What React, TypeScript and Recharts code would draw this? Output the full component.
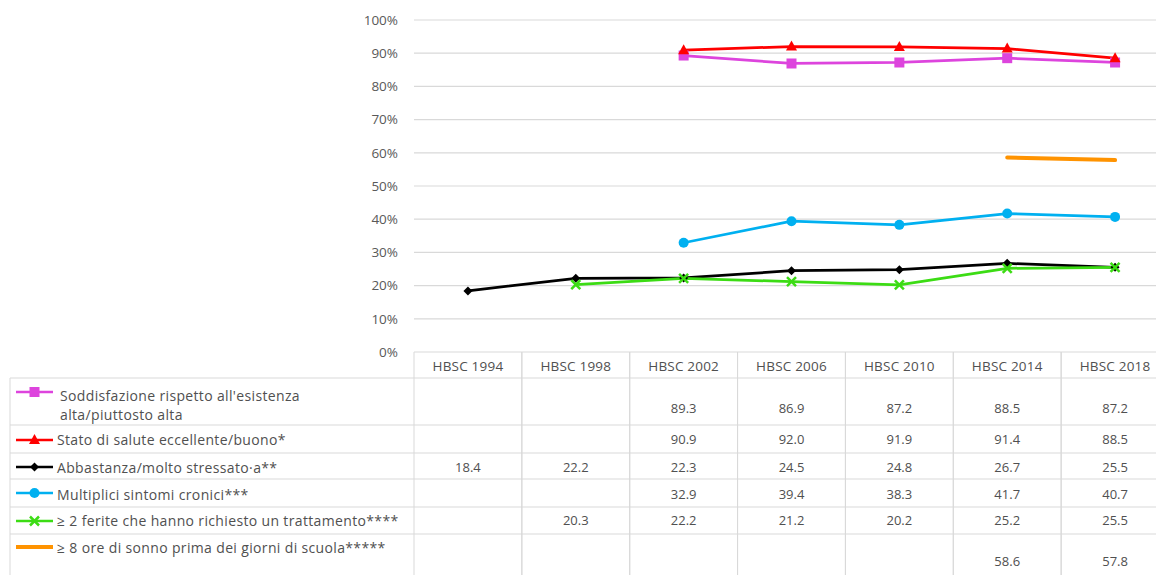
import { LineChart, Line, XAxis, YAxis, CartesianGrid } from "recharts";

// categorie (anni dell'indagine)
const years = ["HBSC 1994", "HBSC 1998", "HBSC 2002", "HBSC 2006", "HBSC 2010", "HBSC 2014", "HBSC 2018"];

// valori delle serie (%), null = non rilevato
const soddisfazione = [null, null, 89.3, 86.9, 87.2, 88.5, 87.2];
const salute = [null, null, 90.9, 92.0, 91.9, 91.4, 88.5];
const stress = [18.4, 22.2, 22.3, 24.5, 24.8, 26.7, 25.5];
const sintomi = [null, null, 32.9, 39.4, 38.3, 41.7, 40.7];
const ferite = [null, 20.3, 22.2, 21.2, 20.2, 25.2, 25.5];
const sonno = [null, null, null, null, null, 58.6, 57.8];

const yTicks = [0, 10, 20, 30, 40, 50, 60, 70, 80, 90, 100];

const series = [
  { key: "soddisfazione", values: soddisfazione, label: ["Soddisfazione rispetto all'esistenza", "alta/piuttosto alta"], color: "#DD44DD", shape: "square" },
  { key: "salute", values: salute, label: ["Stato di salute eccellente/buono*"], color: "#FF0000", shape: "triangle" },
  { key: "stress", values: stress, label: ["Abbastanza/molto stressato·a**"], color: "#000000", shape: "diamond" },
  { key: "sintomi", values: sintomi, label: ["Multiplici sintomi cronici***"], color: "#00B0F0", shape: "circle" },
  { key: "ferite", values: ferite, label: ["≥ 2 ferite che hanno richiesto un trattamento****"], color: "#3CDC14", shape: "x" },
  { key: "sonno", values: sonno, label: ["≥ 8 ore di sonno prima dei giorni di scuola*****"], color: "#FF9300", shape: "none" },
];

const data = years.map((year, i) => {
  const row: Record<string, string | number | null> = { year };
  series.forEach((s) => (row[s.key] = s.values[i]));
  return row;
});

// layout della tabella sotto il grafico
const FONT = "'Open Sans', sans-serif";
const TEXT = "#505050";
const BORDER = "#d9d9d9";
const COL = 107.85;
const TABLE_TOP = 352;
const HEADER_BOTTOM = 378;
const ROW_LINES = [378, 425, 453, 479, 507, 534];
const VALUE_Y = [408, 439, 467, 494, 520, 561];
const LEGEND_Y = [392, 440, 467, 493, 521, 547];
const LABEL_Y = [[395, 414], [439], [467], [494], [520], [547]];

const Marker = ({ shape, cx, cy, color }: { shape: string; cx: number; cy: number; color: string }) => {
  if (shape === "square") return <rect x={cx - 5} y={cy - 5} width={10} height={10} fill={color} />;
  if (shape === "triangle")
    return <polygon points={`${cx},${cy - 6} ${cx + 5.5},${cy + 4} ${cx - 5.5},${cy + 4}`} fill={color} />;
  if (shape === "diamond")
    return <polygon points={`${cx},${cy - 4.5} ${cx + 4.5},${cy} ${cx},${cy + 4.5} ${cx - 4.5},${cy}`} fill={color} />;
  if (shape === "circle") return <circle cx={cx} cy={cy} r={5} fill={color} />;
  if (shape === "x")
    return (
      <g stroke={color} strokeWidth={2.5}>
        <line x1={cx - 4.5} y1={cy - 4.5} x2={cx + 4.5} y2={cy + 4.5} />
        <line x1={cx - 4.5} y1={cy + 4.5} x2={cx + 4.5} y2={cy - 4.5} />
      </g>
    );
  return null;
};

const makeDot = (shape: string, color: string) => (props: any) => {
  const { cx, cy, index } = props;
  if (cx == null || cy == null || props.value == null) return <g key={`d-${index}`} />;
  return (
    <g key={`d-${index}`}>
      <Marker shape={shape} cx={cx} cy={cy} color={color} />
    </g>
  );
};

// ogni tick dell'asse X disegna la propria colonna della tabella dati
const TableColumn = (props: any) => {
  const { x, payload } = props;
  const i = payload.index;
  const left = x - COL / 2;
  const right = x + COL / 2;
  return (
    <g>
      <line x1={left} y1={TABLE_TOP} x2={left} y2={575} stroke={BORDER} />
      <line x1={right} y1={TABLE_TOP} x2={right} y2={575} stroke={BORDER} />
      {ROW_LINES.map((y) => (
        <line key={y} x1={left} y1={y} x2={right} y2={y} stroke={BORDER} />
      ))}
      <text x={x} y={366} textAnchor="middle" dominantBaseline="central" fontSize={13.5} letterSpacing={0.2} fill={TEXT} fontFamily={FONT}>
        {payload.value}
      </text>
      {series.map((s, r) =>
        s.values[i] == null ? null : (
          <text key={s.key} x={x} y={VALUE_Y[r]} textAnchor="middle" dominantBaseline="central" fontSize={13} fill={TEXT} fontFamily={FONT}>
            {s.values[i]!.toFixed(1)}
          </text>
        )
      )}
    </g>
  );
};

const LegendColumn = () => (
  <svg width={414} height={575} style={{ position: "absolute", left: 0, top: 0 }}>
    <line x1={10} y1={HEADER_BOTTOM} x2={10} y2={575} stroke={BORDER} />
    {ROW_LINES.map((y) => (
      <line key={y} x1={10} y1={y} x2={414} y2={y} stroke={BORDER} />
    ))}
    {series.map((s, r) => (
      <g key={s.key}>
        <line x1={16} y1={LEGEND_Y[r]} x2={53} y2={LEGEND_Y[r]} stroke={s.color} strokeWidth={s.shape === "none" ? 4 : 2.5} />
        <Marker shape={s.shape} cx={34.5} cy={LEGEND_Y[r]} color={s.color} />
        {s.label.map((t, k) => (
          <text key={k} x={r === 0 ? 60 : 57} y={LABEL_Y[r][k]} dominantBaseline="central" fontSize={14} letterSpacing={0.35} fill={TEXT} fontFamily={FONT}>
            {t}
          </text>
        ))}
      </g>
    ))}
  </svg>
);

export default function App() {
  return (
    <div style={{ position: "fixed", left: 0, top: 0, width: 1156, height: 575, overflow: "hidden", background: "#fff" }}>
      <LineChart width={1170} height={575} data={data} margin={{ top: 20, right: 1, left: 364, bottom: 0 }}>
        <CartesianGrid vertical={false} stroke={BORDER} strokeWidth={1.2} />
        <XAxis
          dataKey="year"
          height={223}
          axisLine={false}
          tickLine={false}
          interval={0}
          padding={{ left: COL / 2, right: COL / 2 }}
          tick={<TableColumn />}
        />
        <YAxis
          width={50}
          domain={[0, 100]}
          ticks={yTicks}
          tickFormatter={(v: number) => `${v}%`}
          axisLine={false}
          tickLine={false}
          tickMargin={10}
          tick={{ fontSize: 13.5, fill: "#595959", fontFamily: FONT }}
        />
        {series.map((s) => (
          <Line
            key={s.key}
            dataKey={s.key}
            name={s.label.join(" ")}
            stroke={s.color}
            strokeWidth={s.shape === "none" ? 4 : 2.75}
            strokeLinecap="round"
            dot={s.shape === "none" ? false : makeDot(s.shape, s.color)}
            activeDot={false}
            isAnimationActive={false}
          />
        ))}
      </LineChart>
      <LegendColumn />
    </div>
  );
}
